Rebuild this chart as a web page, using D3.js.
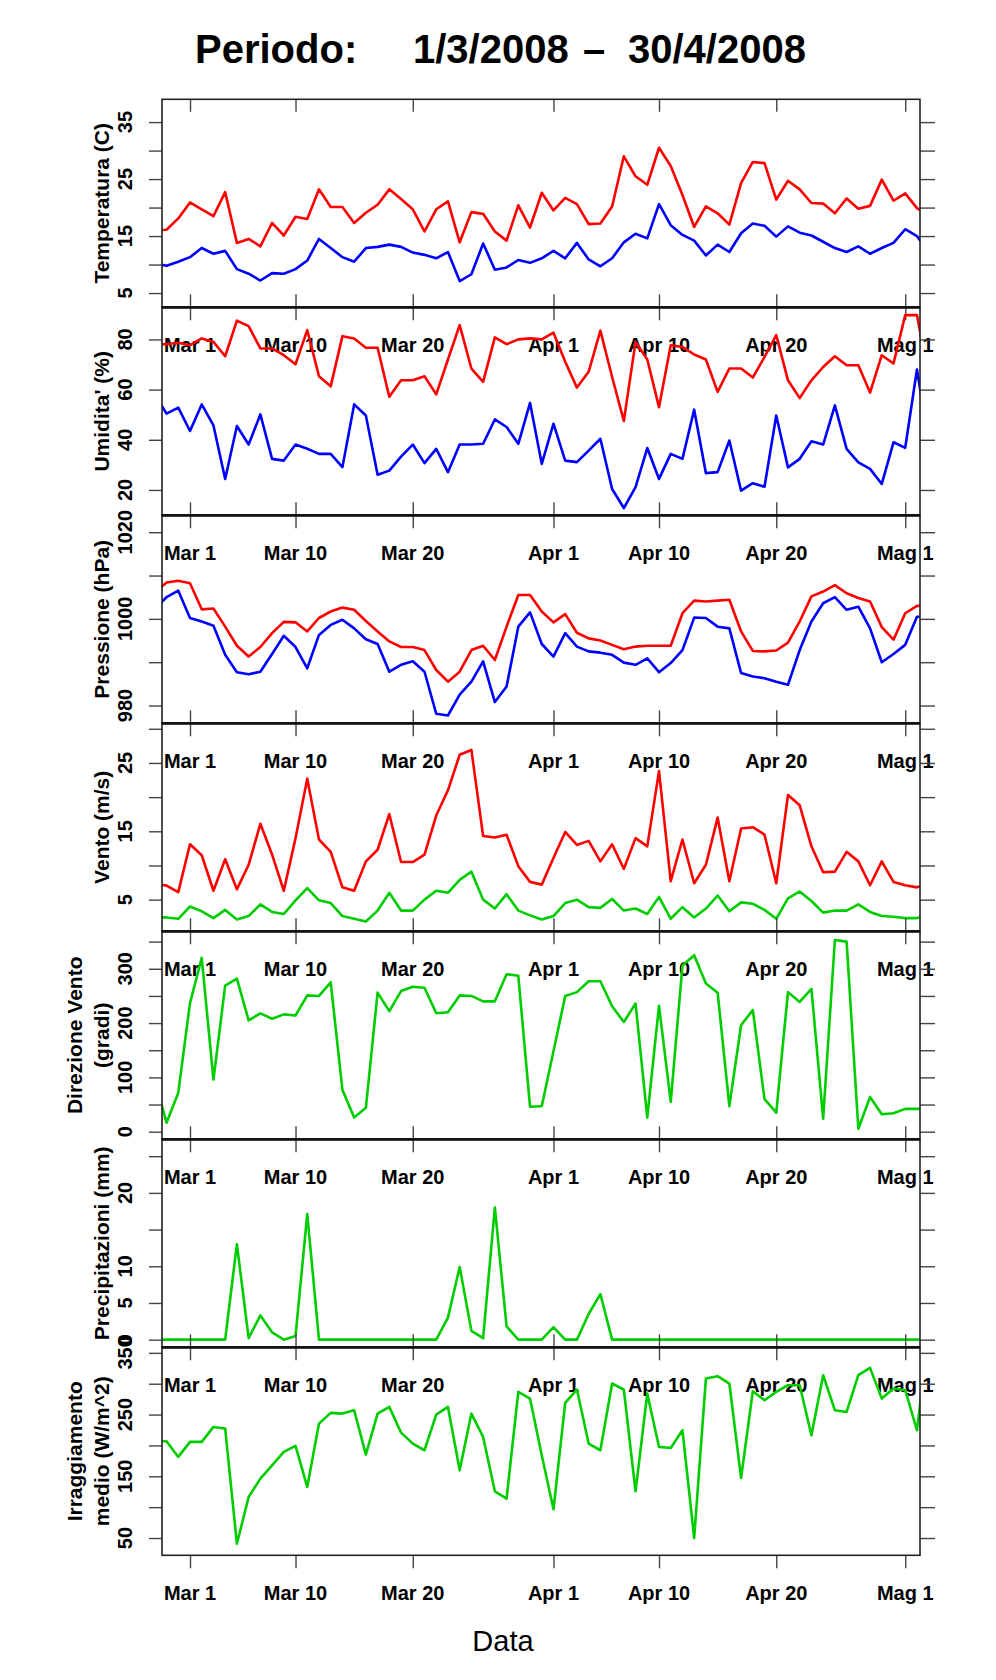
<!DOCTYPE html>
<html>
<head>
<meta charset="utf-8">
<script src="https://cdn.jsdelivr.net/npm/d3@7"></script>
<style>
    body { margin: 0; background: #fff; }
    svg { display: block; }
</style>
</head>
<body>
<svg id="chart"></svg>
<script>
// Daily values, 27 Feb 2008 .. 3 May 2008 (the ends are clipped by the plot box)
const days = d3.utcDay.range(new Date(Date.UTC(2008, 1, 27)), new Date(Date.UTC(2008, 4, 4)));

const tempMax = [16.0, 16.1, 18.1, 20.9, 19.7, 18.5, 22.7, 13.8, 14.5, 13.2, 17.3, 15.1, 18.4, 18.0, 23.2, 20.1, 20.1, 17.3, 19.1, 20.5, 23.2, 21.5, 19.7, 15.8, 19.7, 21.1, 13.9, 19.2, 18.9, 15.8, 14.2, 20.4, 16.5, 22.6, 19.5, 21.7, 20.6, 17.1, 17.2, 20.2, 29.0, 25.5, 24.0, 30.5, 27.3, 22.2, 16.6, 20.2, 19.0, 17.0, 24.3, 28.0, 27.8, 21.4, 24.7, 23.2, 20.8, 20.7, 19.0, 21.6, 19.8, 20.3, 24.9, 21.2, 22.5, 19.9, 18.6];
const tempMin = [10.2, 9.8, 10.5, 11.3, 12.9, 11.9, 12.4, 9.2, 8.4, 7.2, 8.5, 8.4, 9.2, 10.7, 14.5, 12.9, 11.3, 10.5, 12.9, 13.1, 13.5, 13.1, 12.1, 11.7, 11.1, 12.2, 7.1, 8.3, 13.7, 9.1, 9.5, 10.8, 10.3, 11.1, 12.4, 11.1, 13.8, 10.9, 9.7, 11.1, 13.9, 15.4, 14.6, 20.6, 16.9, 15.2, 14.2, 11.6, 13.5, 12.2, 15.5, 17.2, 16.8, 14.9, 16.7, 15.6, 15.1, 14.0, 12.9, 12.2, 13.2, 11.9, 12.9, 13.8, 16.2, 15.0, 12.1];

const humMax = [78, 78.1, 78.7, 77.7, 80.4, 79, 73.3, 87.5, 85.3, 76.4, 76.4, 73.7, 70.1, 83.7, 65.3, 61.3, 81.3, 80.4, 76.7, 76.7, 57.1, 63.7, 63.7, 65.3, 58.1, 72, 85.7, 68.4, 63.1, 80.8, 78.1, 80, 80.4, 80, 82.7, 71.1, 60.8, 67.1, 83.5, 65, 47.5, 79, 72, 53, 77.7, 77, 74, 72, 59.1, 68.4, 68.4, 64.8, 73, 81.7, 63.7, 56.6, 63.7, 69, 73.3, 69.7, 69.7, 58.8, 73.7, 70.4, 89.7, 89.7, 64.7];
const humMin = [58, 50.4, 52.8, 43.5, 54.1, 45.7, 24.4, 45.5, 38.1, 50.1, 32.4, 31.7, 38.1, 36.4, 34.4, 34.4, 29.1, 54.1, 49.7, 26.1, 27.7, 33.3, 38.1, 30.7, 36.4, 27.1, 38.1, 38.1, 38.4, 48.1, 45.1, 38.4, 54.7, 30.4, 46.4, 31.7, 31.1, 35.7, 40.4, 20.4, 12.8, 21.1, 36.7, 24.4, 34.4, 32.4, 52, 26.7, 27.1, 39.7, 19.7, 22.7, 21.3, 49.7, 29, 32.4, 39.4, 38.1, 53.7, 36.4, 31, 28.4, 22.4, 39, 36.8, 68, 38.8];

const presMax = [1006.1, 1008.4, 1008.8, 1008.2, 1002.2, 1002.4, 998.2, 993.8, 991.3, 993.5, 996.7, 999.3, 999.2, 997.1, 1000.2, 1001.7, 1002.6, 1002.1, 999.5, 997.1, 994.8, 993.5, 993.5, 992.8, 988.2, 985.5, 987.8, 992.8, 993.8, 990.5, 998.2, 1005.5, 1005.5, 1001.7, 999.2, 1001.1, 996.8, 995.5, 995, 994, 993, 993.6, 993.8, 993.8, 993.8, 1001.3, 1004.2, 1004, 1004.2, 1004.4, 997.1, 992.6, 992.5, 992.7, 994.5, 999.4, 1005.2, 1006.3, 1007.8, 1005.9, 1004.8, 1004, 998.1, 995.2, 1001.3, 1003, 1003];
const presMin = [1002.4, 1005, 1006.5, 1000.2, 999.4, 998.4, 991.7, 987.7, 987.2, 987.8, 991.9, 996.1, 993.5, 988.6, 996.3, 998.6, 999.8, 997.8, 995.3, 994.2, 987.8, 989.4, 990.2, 987.8, 978.1, 977.7, 982.5, 985.5, 990.2, 980.8, 984.4, 998.2, 1001.5, 994.2, 991.3, 996.7, 993.6, 992.5, 992.2, 991.7, 989.9, 989.4, 990.9, 987.7, 989.8, 992.8, 1000.3, 1000.2, 998.2, 997.8, 987.5, 986.7, 986.3, 985.5, 984.8, 992.8, 999.4, 1003.6, 1005, 1002.1, 1002.8, 997.8, 990, 991.9, 994, 1000.5, 1000.5];

const windMax = [7.4, 7.05, 6.1, 13.1, 11.5, 6.3, 10.9, 6.5, 10.1, 16.1, 11.6, 6.3, 14, 22.7, 13.8, 12, 6.8, 6.3, 10.6, 12.3, 17.5, 10.5, 10.5, 11.6, 17.3, 21, 26.2, 26.9, 14.3, 14.1, 14.5, 9.9, 7.6, 7.2, 11.1, 14.9, 13, 13.6, 10.6, 13.1, 9.5, 14, 12.8, 23.8, 7.7, 13.8, 7.4, 10.1, 17, 7.7, 15.4, 15.6, 14.5, 7.4, 20.3, 18.8, 12.8, 9, 9.1, 12, 10.6, 7.1, 10.6, 7.6, 7.1, 6.8, 7.4];
const windMean = [2.4, 2.4, 2.2, 4, 3.3, 2.3, 3.5, 2.1, 2.6, 4.3, 3.2, 2.9, 4.9, 6.7, 4.9, 4.5, 2.6, 2.2, 1.8, 3.4, 6, 3.4, 3.4, 5, 6.3, 6, 7.9, 9.1, 5, 3.7, 5.8, 3.4, 2.7, 2.1, 2.6, 4.5, 5, 3.9, 3.8, 5.1, 3.4, 3.7, 2.9, 5.4, 2.2, 3.9, 2.4, 3.7, 5.6, 3.3, 4.6, 4.4, 3.5, 2.2, 5.2, 6.2, 4.8, 3.1, 3.4, 3.4, 4.3, 3.2, 2.6, 2.5, 2.3, 2.3, 2.7];

const windDir = [94, 16.6, 71.8, 237, 320, 96, 269, 282, 205, 218, 208, 216, 214, 251, 250, 275, 77, 26, 44, 256, 222, 259, 267, 265, 218, 220, 251, 250, 240, 240, 290, 287, 46, 47, 148, 250, 257, 277, 277, 231, 202, 236, 26, 232, 55, 306, 325, 273, 256, 47, 196, 224, 60, 35, 257, 239, 263, 24, 353, 350, 5.5, 64, 32, 34, 42, 42, 42];

const rain = [0, 0, 0, 0, 0, 0, 0, 13, 0.2, 3.3, 1, 0, 0.5, 17.1, 0, 0, 0, 0, 0, 0, 0, 0, 0, 0, 0, 3, 9.9, 1.2, 0.2, 18, 1.8, 0, 0, 0, 1.7, 0, 0, 3.5, 6.2, 0, 0, 0, 0, 0, 0, 0, 0, 0, 0, 0, 0, 0, 0, 0, 0, 0, 0, 0, 0, 0, 0, 0, 0, 0, 0, 0, 0];

const radiation = [206.8, 206.8, 181.4, 205.7, 205.7, 230, 227.3, 40.8, 116.5, 146.2, 167.8, 189.5, 199.2, 132.7, 235.4, 252.7, 251.6, 257, 185.1, 251.6, 262.4, 220.8, 203, 192.2, 250, 262.4, 159.7, 251.6, 213.8, 125.7, 113.8, 286.8, 275.9, 184, 96.5, 268.9, 290.5, 203, 192.2, 300.3, 290.5, 125.7, 284.1, 197.6, 195.9, 224.6, 50, 308.4, 312.2, 300.3, 147.3, 287.8, 273.2, 286.8, 297.6, 297.6, 216.5, 313.8, 257, 254.3, 313.8, 325.7, 275.9, 292.2, 289.5, 224.6, 380];

const tickDates = [
    Date.UTC(2008, 2, 1), Date.UTC(2008, 2, 10), Date.UTC(2008, 2, 20),
    Date.UTC(2008, 3, 1), Date.UTC(2008, 3, 10), Date.UTC(2008, 3, 20),
    Date.UTC(2008, 4, 1)
].map((t) => new Date(t));
const tickLabels = ['Mar 1', 'Mar 10', 'Mar 20', 'Apr 1', 'Apr 10', 'Apr 20', 'Mag 1'];

const RED = '#ff0000';
const BLUE = '#0000ff';
const GREEN = '#00cd00';

const panels = [
    { title: ['Temperatura (C)'], domain: [2.5, 39], ticks: [5, 10, 15, 20, 25, 30, 35], labels: [5, 15, 25, 35],
      series: [{ values: tempMax, color: RED }, { values: tempMin, color: BLUE }] },
    { title: ["Umidita' (%)"], domain: [9.9, 92.8], ticks: [20, 40, 60, 80], labels: [20, 40, 60, 80],
      series: [{ values: humMax, color: RED }, { values: humMin, color: BLUE }] },
    { title: ['Pressione (hPa)'], domain: [975.9, 1023.9], ticks: [980, 990, 1000, 1010, 1020], labels: [980, 1000, 1020],
      series: [{ values: presMax, color: RED }, { values: presMin, color: BLUE }] },
    { title: ['Vento (m/s)'], domain: [0.37, 30.8], ticks: [5, 10, 15, 20, 25, 30], labels: [5, 15, 25],
      series: [{ values: windMax, color: RED }, { values: windMean, color: GREEN }] },
    { title: ['Direzione Vento', '(gradi)'], domain: [-14, 369], ticks: [0, 50, 100, 150, 200, 250, 300, 350], labels: [0, 100, 200, 300],
      series: [{ values: windDir, color: GREEN }] },
    { title: ['Precipitazioni (mm)'], domain: [-1.04, 27.3], ticks: [0, 5, 10, 15, 20, 25], labels: [0, 5, 10, 20],
      series: [{ values: rain, color: GREEN }] },
    { title: ['Irraggiamento', 'medio (W/m^2)'], domain: [22, 359], ticks: [50, 100, 150, 200, 250, 300, 350], labels: [50, 150, 250, 350],
      series: [{ values: radiation, color: GREEN }] }
];

const WIDTH = 996;
const HEIGHT = 1680;
const PLOT_LEFT = 162;
const PLOT_RIGHT = 920;
const PLOT_TOP = 99.3;
const PANEL_HEIGHT = 208;
const TICK_SIZE = 13;
const FONT = '"Liberation Sans", Arial, Helvetica, sans-serif';

const svg = d3.select('#chart').attr('width', WIDTH).attr('height', HEIGHT)
    .style('font-family', FONT);

const x = d3.scaleUtc()
    .domain([new Date(Date.UTC(2008, 1, 27, 14, 41)), new Date(Date.UTC(2008, 4, 2, 6, 14))])
    .range([PLOT_LEFT, PLOT_RIGHT]);

function styleTicks(g) {
    g.select('.domain').remove();
    g.selectAll('.tick line').attr('stroke', '#444').attr('stroke-width', 1.4);
}

function drawPanel(p, i) {
    const top = PLOT_TOP + i * PANEL_HEIGHT;
    const bottom = top + PANEL_HEIGHT;
    const y = d3.scaleLinear().domain(p.domain).range([bottom, top]);
    const g = svg.append('g');

    const clipId = 'clip-' + i;
    svg.append('clipPath').attr('id', clipId)
        .append('rect')
        .attr('x', PLOT_LEFT).attr('y', top)
        .attr('width', PLOT_RIGHT - PLOT_LEFT).attr('height', PANEL_HEIGHT);

    const line = d3.line()
        .x((d, j) => x(days[j]))
        .y((d) => y(d));

    p.series.forEach((s) => {
        g.append('path')
            .attr('d', line(s.values))
            .attr('fill', 'none')
            .attr('stroke', s.color)
            .attr('stroke-width', 2.6)
            .attr('stroke-linejoin', 'round')
            .attr('clip-path', `url(#${clipId})`);
    });

    // y ticks, left and right
    g.append('g').attr('transform', `translate(${PLOT_LEFT},0)`)
        .call(d3.axisLeft(y).tickValues(p.ticks).tickSize(TICK_SIZE).tickFormat(''))
        .call(styleTicks);
    g.append('g').attr('transform', `translate(${PLOT_RIGHT},0)`)
        .call(d3.axisRight(y).tickValues(p.ticks).tickSize(15).tickFormat(''))
        .call(styleTicks);

    g.selectAll('.ylab')
        .data(p.labels)
        .join('text')
        .attr('transform', (d) => `translate(132,${y(d)}) rotate(-90)`)
        .attr('text-anchor', 'middle')
        .attr('font-size', 20)
        .attr('font-weight', 'bold')
        .text((d) => d);

    // x ticks: top (inward for the first panel, outward otherwise) and bottom
    g.append('g').attr('transform', `translate(0,${top})`)
        .call(d3.axisTop(x).tickValues(tickDates).tickSize(i === 0 ? -TICK_SIZE + 0.5 : TICK_SIZE).tickFormat(''))
        .call(styleTicks);
    g.append('g').attr('transform', `translate(0,${bottom})`)
        .call(d3.axisBottom(x).tickValues(tickDates).tickSize(TICK_SIZE).tickFormat(''))
        .call(styleTicks);

    g.selectAll('.xlab')
        .data(tickDates)
        .join('text')
        .attr('x', (d) => x(d))
        .attr('y', bottom + 45)
        .attr('text-anchor', 'middle')
        .attr('font-size', 20)
        .attr('font-weight', 'bold')
        .text((d, j) => tickLabels[j]);

    // axis title
    const mid = (top + bottom) / 2;
    p.title.forEach((t, k) => {
        const base = 109 - (p.title.length - 1 - k) * 27;
        g.append('text')
            .attr('transform', `translate(${base},${mid}) rotate(-90)`)
            .attr('text-anchor', 'middle')
            .attr('font-size', 21)
            .attr('font-weight', 'bold')
            .text(t);
    });

    // box
    g.append('rect')
        .attr('x', PLOT_LEFT).attr('y', top)
        .attr('width', PLOT_RIGHT - PLOT_LEFT).attr('height', PANEL_HEIGHT)
        .attr('fill', 'none')
        .attr('stroke', '#222')
        .attr('stroke-width', 1.6);
    if (i > 0) {
        g.append('line')
            .attr('x1', PLOT_LEFT).attr('x2', PLOT_RIGHT)
            .attr('y1', top).attr('y2', top)
            .attr('stroke', '#111')
            .attr('stroke-width', 2.8);
    }
}

panels.forEach(drawPanel);

// title pieces
const titleParts = [
    { text: 'Periodo:', x: 195 },
    { text: '1/3/2008', x: 413 },
    { text: '\u2013', x: 583 },
    { text: '30/4/2008', x: 628 }
];
svg.selectAll('.title')
    .data(titleParts)
    .join('text')
    .attr('x', (d) => d.x)
    .attr('y', 63)
    .attr('font-size', 40)
    .attr('font-weight', 'bold')
    .text((d) => d.text);

svg.append('text')
    .attr('x', 503)
    .attr('y', 1651)
    .attr('text-anchor', 'middle')
    .attr('font-size', 29)
    .text('Data');
</script>
</body>
</html>
